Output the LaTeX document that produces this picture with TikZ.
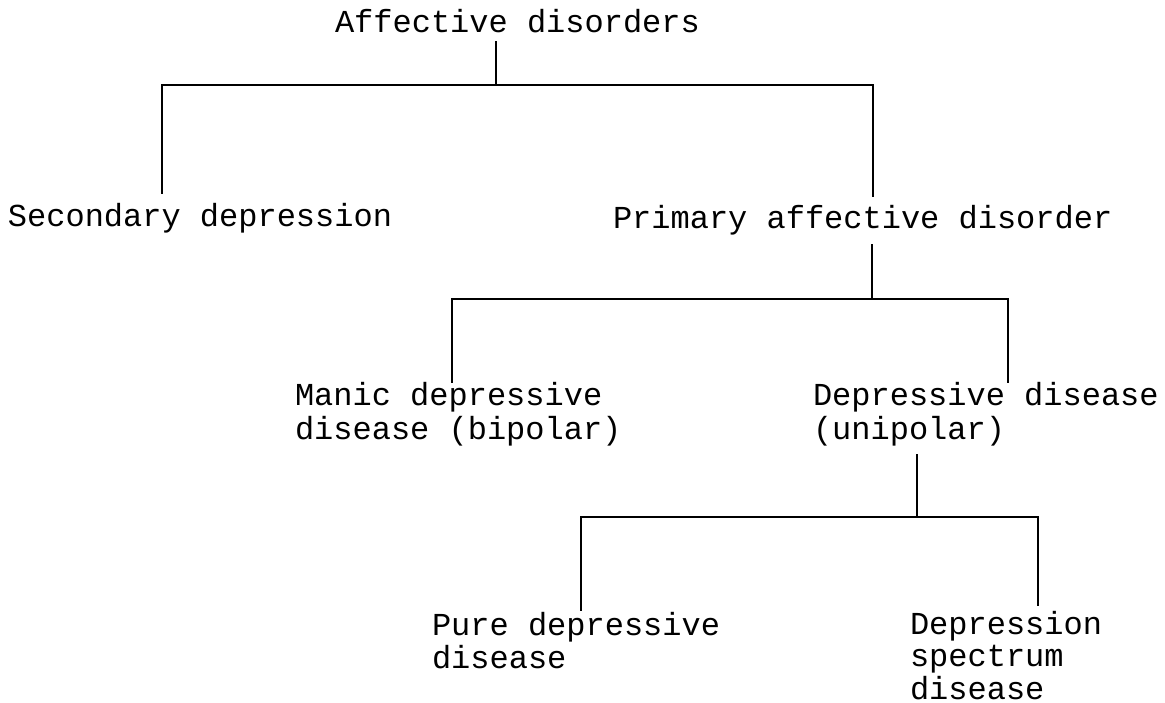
\documentclass[tikz,border=0pt]{standalone}
\usepackage{fontspec}
\setmonofont{Liberation Mono}
\begin{document}
\begin{tikzpicture}[x=1pt,y=-1pt,
  lbl/.style={anchor=base west,inner sep=0pt,outer sep=0pt,align=left,
    font=\ttfamily\fontsize{32}{33.5}\selectfont},
  lbltight/.style={lbl,font=\ttfamily\fontsize{32}{32.5}\selectfont},
  tree/.style={line width=2.5pt,line cap=rect}]
\useasboundingbox (0,0) rectangle (1165,703);
% labels (anchor = baseline of the last line)
\node[lbl] (root)  at (335,33)  {Affective disorders};
\node[lbl] (sec)   at (8,227)   {Secondary depression};
\node[lbl] (prim)  at (613,229) {Primary affective disorder};
\node[lbl] (manic) at (295,439) {Manic depressive\\disease (bipolar)};
\node[lbl] (dep)   at (813,439) {Depressive disease\\(unipolar)};
\node[lbl] (pure)  at (432,668.5) {Pure depressive\\disease};
\node[lbltight] (spec) at (910,699) {Depression\\spectrum\\disease};
% junction coordinates
\coordinate (r0) at (496,42);  \coordinate (r1) at (496,85);
\coordinate (bl) at (162,85);  \coordinate (br) at (873,85);
\coordinate (sl) at (162,193); \coordinate (pr) at (873,196);
\coordinate (p0) at (872,245); \coordinate (p1) at (872,299);
\coordinate (ml) at (452,299); \coordinate (mr) at (1008,299);
\coordinate (mt) at (452,382); \coordinate (dt) at (1008,382);
\coordinate (d0) at (917,455); \coordinate (d1) at (917,517);
\coordinate (ul) at (581,517); \coordinate (ur) at (1038,517);
\coordinate (ut) at (581,610); \coordinate (st) at (1038,605);
% connectors
\draw[tree] (r0) -- (r1);
\draw[tree] (sl) -- (bl) -- (br) -- (pr);
\draw[tree] (p0) -- (p1);
\draw[tree] (mt) -- (ml) -- (mr) -- (dt);
\draw[tree] (d0) -- (d1);
\draw[tree] (ut) -- (ul) -- (ur) -- (st);
\end{tikzpicture}
\end{document}
